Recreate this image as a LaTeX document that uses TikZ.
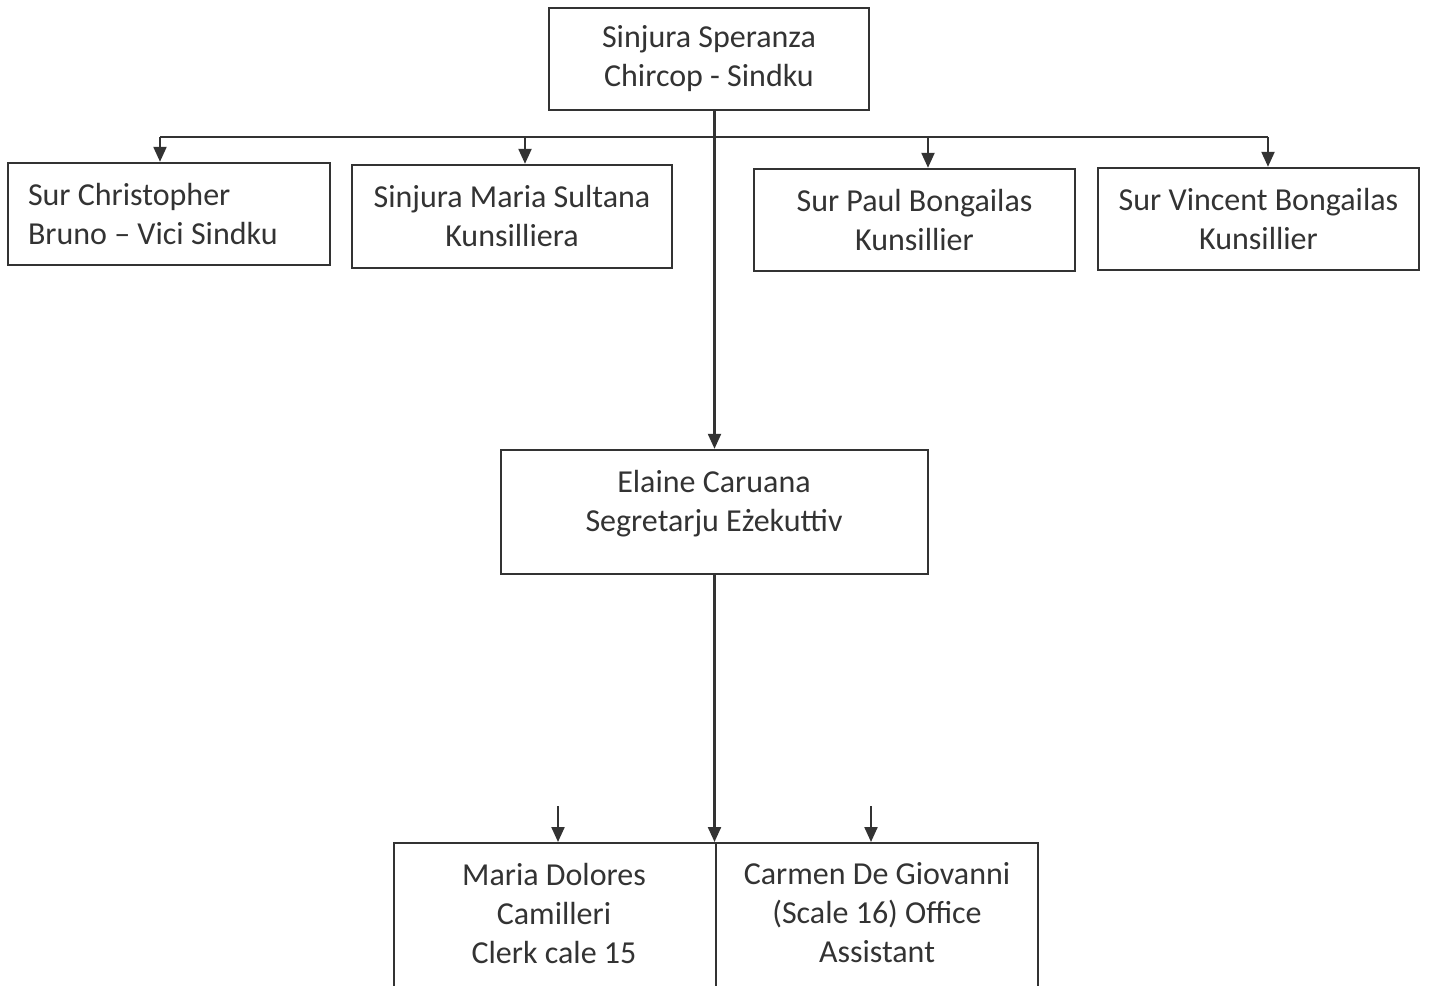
\documentclass[tikz,border=0pt]{standalone}
\usepackage{fontspec}
\setmainfont{Carlito}
\usetikzlibrary{arrows.meta,positioning}
\definecolor{ink}{HTML}{333333}

\begin{document}
\begin{tikzpicture}[
    x=1pt, y=-1pt,
    every node/.style={text=ink, font=\fontsize{32}{39}\selectfont, align=center},
    box/.style={draw=ink, line width=2.4pt, inner sep=0pt},
    link/.style={draw=ink, line width=2.2pt},
    arrow/.style={link, -{Triangle[length=15pt,width=13pt]}},
  ]
  \useasboundingbox (0,0) rectangle (1429,985);
  \clip (0,0) rectangle (1429,985);
  \fill[white] (0,0) rectangle (1429,985);

  % sindku
  \node[box, minimum width=320, minimum height=102] (sindku) at (709,59) {Sinjura Speranza\\Chircop - Sindku};

  % council
  \node[box, minimum width=322, minimum height=102, text width=282, align=flush left] (vici) at (169,214) {Sur Christopher\\Bruno – Vici Sindku};
  \node[box, minimum width=320, minimum height=103] (sultana) at (512,216.5) {Sinjura Maria Sultana\\Kunsilliera};
  \node[box, minimum width=321, minimum height=102] (paul) at (914.5,220) {Sur Paul Bongailas\\Kunsillier};
  \node[box, minimum width=321, minimum height=102] (vincent) at (1258.5,219) {Sur Vincent Bongailas\\Kunsillier};

  % segretarju
  \node[box, minimum width=427, minimum height=124] (elaine) at (714.5,512) {};
  \node (elainetxt) at (714,504) {Elaine Caruana\\Segretarju Eżekuttiv};

  % staff
  \node[box, minimum width=322, minimum height=300, anchor=north] (dolores) at (555,842) {};
  \node (dolorestxt) at (554,913) {Maria Dolores\\Camilleri\\Clerk cale 15};
  \node[box, minimum width=322, minimum height=300, anchor=north] (carmen) at (877,842) {};
  \node (carmentxt) at (877,913) {Carmen De Giovanni\\(Scale 16) Office\\Assistant};

  % links
  \coordinate (busW) at (160,137);
  \coordinate (busE) at (1268,137);
  \draw[link] (busW) -- (busE);
  \foreach \n/\xx in {vici/160, sultana/525, paul/928, vincent/1268}
    \draw[arrow] (\xx,137) -- (\xx,0 |- \n.north);
  \draw[arrow] (sindku.south -| elaine.north) -- (elaine.north);
  \draw[arrow] (elaine.south) -- (elaine.south |- dolores.north);

  \coordinate (tipA) at (558,806);
  \coordinate (tipB) at (871,806);
  \draw[arrow] (tipA) -- (tipA |- dolores.north);
  \draw[arrow] (tipB) -- (tipB |- carmen.north);
\end{tikzpicture}
\end{document}
